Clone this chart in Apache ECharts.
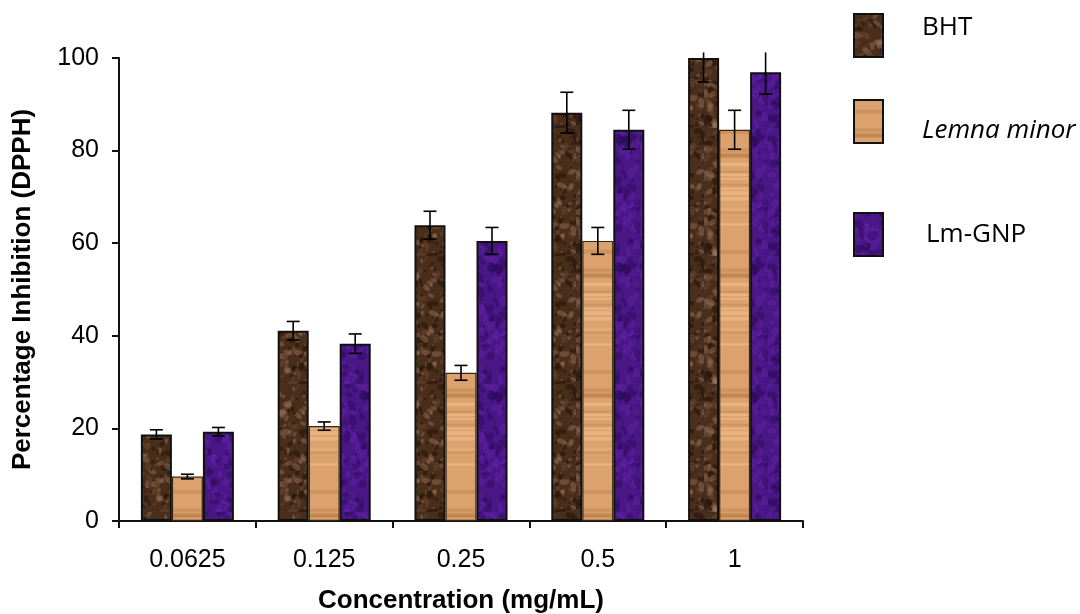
<!DOCTYPE html>
<html>
<head>
<meta charset="utf-8">
<script src="https://cdn.jsdelivr.net/npm/echarts@6/dist/echarts.min.js"></script>
<style>
html,body{margin:0;padding:0;background:#fff;}
#chart{width:1080px;height:614px;}
</style>
</head>
<body>
<div id="chart"></div>
<script>
// ---- data ----
const categories = ['0.0625', '0.125', '0.25', '0.5', '1'];
const seriesNames = ['BHT', 'Lemna minor', 'Lm-GNP'];
const bhtValues   = [18.7, 41.1, 63.9, 88.2, 100.0];
const lemnaValues = [9.6, 20.5, 32.0, 60.5, 84.5];
const lmgnpValues = [19.3, 38.3, 60.5, 84.5, 96.9];
const bhtErrors   = [1.0, 2.0, 3.0, 4.4, 5.2];
const lemnaErrors = [0.5, 0.9, 1.6, 2.9, 4.2];
const lmgnpErrors = [0.9, 2.1, 2.9, 4.2, 4.7];
const yTicks = [0, 20, 40, 60, 80, 100];

// ---- textures (deterministic, style only) ----
function hash(n){ const s = Math.sin(n * 12.9898 + 78.233) * 43758.5453; return s - Math.floor(s); }
function makeCanvas(w, h){ const c = document.createElement('canvas'); c.width = w; c.height = h; return c; }

function brownTexture(){
  const c = makeCanvas(64, 128), g = c.getContext('2d');
  g.fillStyle = '#4a2e1c'; g.fillRect(0,0,64,128);
  for (let i = 0; i < 280; i++){
    const x = hash(i*3+1)*64, y = hash(i*3+2)*128, r = 1 + hash(i*3+3)*4;
    const t = hash(i*7+5);
    g.fillStyle = t > 0.6 ? 'rgba(150,115,88,0.45)' : (t > 0.3 ? 'rgba(100,68,44,0.6)' : 'rgba(38,20,10,0.6)');
    g.beginPath(); g.ellipse(x, y, r, r*0.6, hash(i)*3, 0, Math.PI*2); g.fill();
  }
  return c;
}
function tanTexture(){
  const c = makeCanvas(64, 120), g = c.getContext('2d');
  g.fillStyle = '#dba26e'; g.fillRect(0,0,64,120);
  for (let i = 0; i < 18; i++){
    const y = hash(i*5+11)*120, hgt = 1 + hash(i*5+12)*3;
    g.fillStyle = hash(i*5+13) > 0.5 ? 'rgba(180,120,70,0.35)' : 'rgba(240,195,145,0.55)';
    g.fillRect(0, y, 64, hgt);
  }
  return c;
}
function purpleTexture(){
  const c = makeCanvas(64, 128), g = c.getContext('2d');
  g.fillStyle = '#4a1786'; g.fillRect(0,0,64,128);
  for (let i = 0; i < 200; i++){
    const x = hash(i*3+21)*64, y = hash(i*3+22)*128, r = 1 + hash(i*3+23)*5;
    g.fillStyle = hash(i*9+4) > 0.5 ? 'rgba(105,38,175,0.4)' : 'rgba(45,10,90,0.45)';
    g.beginPath(); g.ellipse(x, y, r, r*0.7, hash(i+3)*3, 0, Math.PI*2); g.fill();
  }
  return c;
}
const brownFill  = { image: brownTexture(),  repeat: 'repeat' };
const tanFill    = { image: tanTexture(),    repeat: 'repeat' };
const purpleFill = { image: purpleTexture(), repeat: 'repeat' };

const fills   = [brownFill, tanFill, purpleFill];
const borders = ['#111', '#3a2614', '#111'];
const borderW = [2, 1.2, 2];
const values  = [bhtValues, lemnaValues, lmgnpValues];
const errors  = [bhtErrors, lemnaErrors, lmgnpErrors];

const chart = echarts.init(document.getElementById('chart'), null, { renderer: 'canvas' });

const barSeries = seriesNames.map((name, i) => ({
  name: name,
  type: 'bar',
  data: values[i],
  barGap: '0%',
  barCategoryGap: '32%',
  itemStyle: { color: fills[i], borderColor: borders[i], borderWidth: borderW[i] },
  emphasis: { disabled: true },
  z: 2
}));

// error bars
const CLIP_MAX = 101.2;
const errSeries = seriesNames.map((name, i) => ({
  name: name + ' err',
  type: 'custom',
  clip: false,
  z: 5,
  data: categories.map((c, k) => [k, values[i][k], errors[i][k]]),
  renderItem: function(params, api){
    const k = api.value(0), v = api.value(1), e = api.value(2);
    const bandW = api.size([1, 0])[0];
    const barW = bandW * (1 - 0.32) / 3;
    const cx = api.coord([k, 0])[0] + (i - 1) * barW;
    let hiV = v + e, capTop = true;
    if (hiV > CLIP_MAX){ hiV = CLIP_MAX; capTop = false; }
    const hi = api.coord([k, hiV])[1];
    const lo = api.coord([k, v - e])[1];
    const cap = 6.5;
    const style = { stroke: '#000', lineWidth: 1.6 };
    const children = [
      { type: 'line', shape: { x1: cx, y1: hi, x2: cx, y2: lo }, style: style },
      { type: 'line', shape: { x1: cx - cap, y1: lo, x2: cx + cap, y2: lo }, style: style }
    ];
    if (capTop) children.push({ type: 'line', shape: { x1: cx - cap, y1: hi, x2: cx + cap, y2: hi }, style: style });
    return { type: 'group', children: children };
  }
}));

const legendTops = [13, 99, 212];
const legendRich = [
  { padding: [0, 0, 15, 34] },
  { padding: [19, 0, 0, 34] },
  { padding: [0, 0, 0, 38] }
];
const legends = seriesNames.map((name, i) => ({
  data: [{ name: name, icon: 'rect', itemStyle: { color: fills[i], borderColor: '#111', borderWidth: 2 } }],
  left: 853, top: legendTops[i],
  padding: 0,
  itemWidth: 29, itemHeight: 43,
  selectedMode: false,
  formatter: function(n){ return '{t|' + n + '}'; },
  textStyle: {
    fontFamily: 'Open Sans', fontSize: 26, color: '#000',
    fontStyle: i === 1 ? 'italic' : 'normal',
    rich: {
      t: Object.assign({
        fontFamily: 'Open Sans', fontSize: 26, color: '#000',
        fontStyle: i === 1 ? 'italic' : 'normal'
      }, legendRich[i])
    }
  }
}));

chart.setOption({
  animation: false,
  backgroundColor: '#fff',
  legend: legends,
  grid: { left: 119, right: 277, top: 58, bottom: 93, outerBoundsMode: 'none', containLabel: false },
  xAxis: {
    type: 'category',
    data: categories,
    name: 'Concentration (mg/mL)',
    nameLocation: 'middle',
    nameGap: 67,
    nameTextStyle: { fontFamily: 'Liberation Sans', fontWeight: 'bold', fontSize: 26, color: '#000' },
    axisLine: { lineStyle: { color: '#111', width: 2 } },
    axisTick: { show: true, length: 7, lineStyle: { color: '#111', width: 2 } },
    axisLabel: { fontFamily: 'Liberation Sans', fontSize: 25, color: '#000', margin: 27 },
    splitLine: { show: false }
  },
  yAxis: {
    type: 'value',
    min: yTicks[0], max: yTicks[yTicks.length - 1], interval: 20,
    name: 'Percentage Inhibition (DPPH)',
    nameLocation: 'middle',
    nameGap: 83,
    nameRotate: 90,
    nameTextStyle: { fontFamily: 'Liberation Sans', fontWeight: 'bold', fontSize: 26, color: '#000' },
    axisLine: { show: true, lineStyle: { color: '#111', width: 2 } },
    axisTick: { show: true, length: 7, lineStyle: { color: '#111', width: 2 } },
    axisLabel: { fontFamily: 'Liberation Sans', fontSize: 25, color: '#000', margin: 20 },
    splitLine: { show: false }
  },
  series: barSeries.concat(errSeries)
});
</script>
</body>
</html>
